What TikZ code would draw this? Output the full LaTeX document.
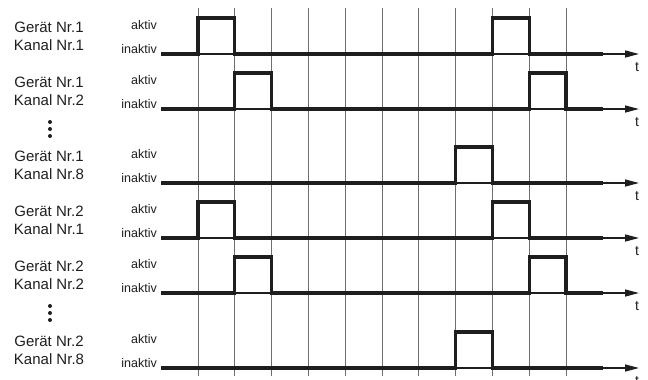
\documentclass[tikz,border=0pt]{standalone}
\usepackage{fontspec}
\setmainfont{Liberation Sans}
\usetikzlibrary{arrows.meta}
\definecolor{gridCol}{HTML}{6E6E6E}
\definecolor{sigCol}{HTML}{1E1E1E}

\begin{document}
\begin{tikzpicture}[x=1pt, y=-1pt,
    every node/.style={inner sep=0pt},
    devlabel/.style={font=\fontsize{15}{17}\selectfont, text=sigCol},
    levlabel/.style={font=\fontsize{12.5}{14}\selectfont, anchor=east, text=sigCol},
    axisline/.style={line width=1.4pt, sigCol, -{Triangle[length=14pt,width=7pt]}},
    signal/.style={line width=3.2pt, sigCol, line join=miter}]
  \useasboundingbox (0,0) rectangle (648,380);
  % time grid
  \foreach \i in {0,...,10}
    \draw[gridCol, line width=0.8pt] (198+\i*36.8, 8) -- (198+\i*36.8, 376);
  % channels (second pulse -1 = none)
  \foreach \dev/\ch/\yb/\pa/\pb [count=\r] in {
      1/1/54/0/8,
      1/2/109/1/9,
      1/8/183/7/-1,
      2/1/238/0/8,
      2/2/293/1/9,
      2/8/368/7/-1
    }{
      \node[devlabel] (geraet\r) at (49, \yb-27) {Gerät Nr.\dev};
      \node[devlabel] (kanal\r) at (49, \yb-9) {Kanal Nr.\ch};
      \node[levlabel] (aktiv\r) at (157, \yb-29) {aktiv};
      \node[levlabel] (inaktiv\r) at (157, \yb-5) {inaktiv};
      \coordinate (ax\r) at (161, \yb);
      \coordinate (tip\r) at (639, \yb);
      \node[font=\fontsize{14}{16}\selectfont, text=sigCol] (t\r) at (637, \yb+13) {t};
      \draw[axisline] (ax\r) -- (tip\r);
      \xdef\trace{-- (198+\pa*36.8, \yb) -- ++(0,-36) -- ++(36.8,0) -- ++(0,36)}
      \ifnum\pb>-1
        \xdef\trace{\trace -- (198+\pb*36.8, \yb) -- ++(0,-36) -- ++(36.8,0) -- ++(0,36)}
      \fi
      \draw[signal] (ax\r) \trace -- (603, \yb);
    }
  % omitted channels
  \foreach \yb in {109, 293}
    \foreach \d in {13, 20, 27}
      \fill[sigCol] (50, \yb+\d) circle (2);
\end{tikzpicture}
\end{document}
